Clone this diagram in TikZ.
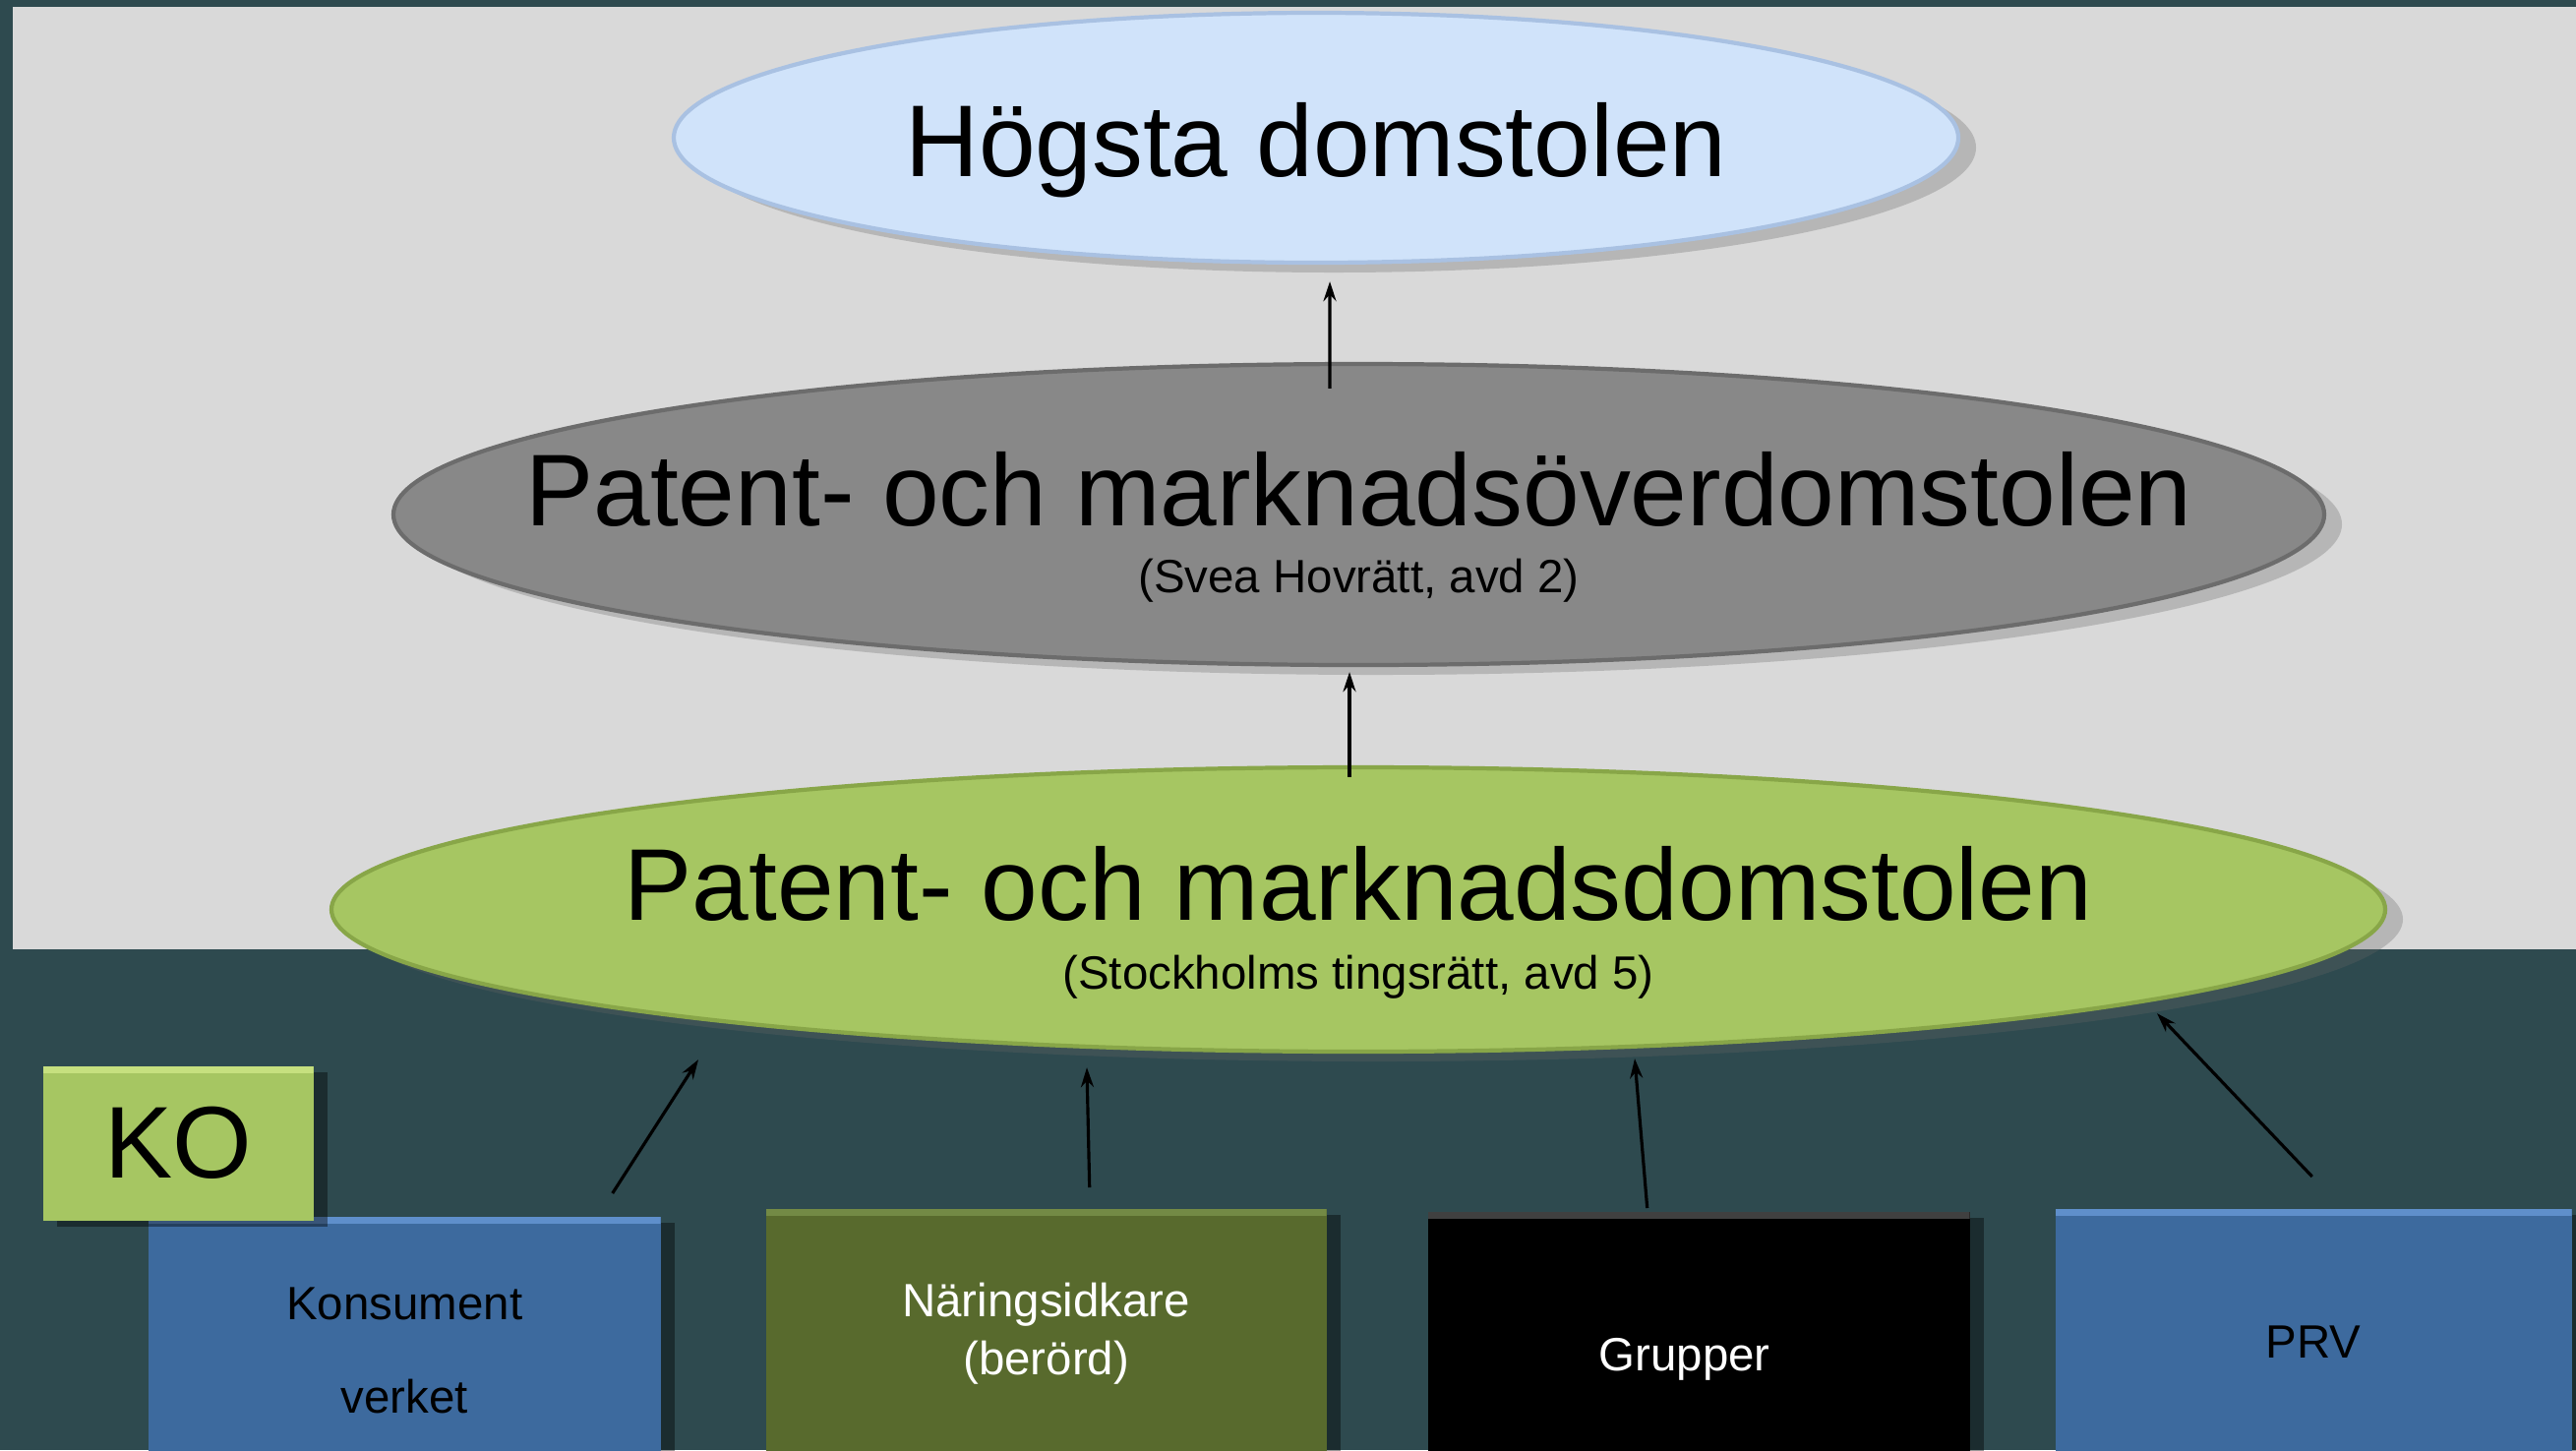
\documentclass[tikz,border=0pt]{standalone}
\usepackage{fontspec}
\setmainfont{Liberation Sans}
\usetikzlibrary{shapes.geometric,shadows,arrows.meta}
\definecolor{slide}{HTML}{2E4A4F}
\definecolor{panel}{HTML}{D9D9D9}
\definecolor{hdblue}{HTML}{D0E3FA}
\definecolor{hdrim}{HTML}{A9C1E2}
\definecolor{pmogray}{HTML}{888888}
\definecolor{pmorim}{HTML}{6C6C6C}
\definecolor{pmdgreen}{HTML}{A6C662}
\definecolor{pmdrim}{HTML}{88A648}
\definecolor{kvblue}{HTML}{3D6A9E}
\definecolor{kvlight}{HTML}{5F8FCB}
\definecolor{nsolive}{HTML}{586A2D}
\definecolor{nslight}{HTML}{738A45}
\definecolor{kolight}{HTML}{C6E07F}
\tikzset{
  court/.style={ellipse, inner sep=0pt, line width=1.2pt,
    drop shadow={shadow xshift=0.18cm, shadow yshift=-0.1cm, opacity=0.3, fill=black!60}},
  courtname/.style={anchor=base, font=\fontsize{29.5}{35}\selectfont},
  subname/.style={anchor=base, font=\fontsize{13.5}{16}\selectfont},
  party/.style={rectangle, anchor=north west, inner sep=0pt,
    drop shadow={shadow xshift=0.14cm, shadow yshift=-0.06cm, opacity=0.4, fill=black}},
  bevel/.style={path picture={\fill[#1] (path picture bounding box.north west)
    rectangle ([yshift=-0.07cm]path picture bounding box.north east);}},
  partyname/.style={anchor=base, font=\fontsize{13.5}{16}\selectfont},
  arr/.style={-{Stealth[length=2mm,width=1.3mm]}, line width=0.9pt, black},
}
\begin{document}
\begin{tikzpicture}
  \clip (0,0) rectangle (26.19,-14.74);
  % background
  \fill[slide] (0,0) rectangle (26.19,-14.74);
  \fill[panel] (0.13,-0.07) rectangle (26.19,-9.65);
  % courts
  \node[court, fill=hdblue, draw=hdrim, minimum width=13.06cm, minimum height=2.54cm]
    (hd) at (13.38,-1.40) {};
  \node[court, fill=pmogray, draw=pmorim, minimum width=19.63cm, minimum height=3.06cm]
    (pmo) at (13.815,-5.23) {};
  \node[court, fill=pmdgreen, draw=pmdrim, minimum width=20.88cm, minimum height=2.89cm]
    (pmd) at (13.81,-9.245) {};
  \node[courtname] (hdname) at ([yshift=-0.39cm]hd.center) {Högsta domstolen};
  \node[courtname] (pmoname) at ([yshift=-0.115cm]pmo.center) {Patent- och marknadsöverdomstolen};
  \node[subname] (pmosub) at ([yshift=-0.79cm]pmo.center) {(Svea Hovrätt, avd 2)};
  \node[courtname] (pmdname) at ([yshift=-0.105cm]pmd.center) {Patent- och marknadsdomstolen};
  \node[subname] (pmdsub) at ([yshift=-0.805cm]pmd.center) {(Stockholms tingsrätt, avd 5)};
  % parties
  \node[party, fill=kvblue, bevel=kvlight, minimum width=5.21cm, minimum height=2.7cm]
    (kv) at (1.50,-12.36) {};
  \node[party, fill=pmdgreen, bevel=kolight, minimum width=2.75cm, minimum height=1.57cm,
    font=\fontsize{29.5}{35}\selectfont] (ko) at (0.43,-10.83) {KO};
  \node[party, fill=nsolive, bevel=nslight, minimum width=5.70cm, minimum height=2.8cm]
    (ns) at (7.78,-12.28) {};
  \node[party, fill=black, bevel=black!75, minimum width=5.51cm, minimum height=2.8cm]
    (gr) at (14.51,-12.31) {};
  \node[party, fill=kvblue, bevel=kvlight, minimum width=5.25cm, minimum height=2.8cm]
    (prv) at (20.89,-12.28) {};
  \node[partyname] (kvname) at ([yshift=-1.05cm]kv.north) {Konsument};
  \node[partyname] (kvname2) at ([yshift=-2.00cm]kv.north) {verket};
  \node[partyname, white] (nsname) at ([yshift=-1.10cm]ns.north) {Näringsidkare};
  \node[partyname, white] (nsname2) at ([yshift=-1.69cm]ns.north) {(berörd)};
  \node[partyname, white] (grname) at ([xshift=-0.145cm, yshift=-1.62cm]gr.north) {Grupper};
  \node[partyname] (prvname) at ([yshift=-1.52cm]prv.north) {PRV};
  % appeals
  \draw[arr] ([shift={(-0.295,-0.27)}]pmo.north) -- ([shift={(0.14,-0.17)}]hd.south);
  \draw[arr] ([shift={(-0.09,-0.12)}]pmd.north) -- ([shift={(-0.095,-0.05)}]pmo.south);
  \draw[arr] ([shift={(2.115,0.23)}]kv.north) -- ([shift={(-6.71,-0.06)}]pmd.south);
  \draw[arr] ([shift={(0.44,0.21)}]ns.north) -- ([shift={(-2.76,-0.14)}]pmd.south);
  \draw[arr] ([shift={(-0.525,0.03)}]gr.north) -- ([shift={(2.81,-0.05)}]pmd.south);
  \draw[arr] ([shift={(-0.015,0.32)}]prv.north) -- ([shift={(8.12,0.41)}]pmd.south);
\end{tikzpicture}
\end{document}
